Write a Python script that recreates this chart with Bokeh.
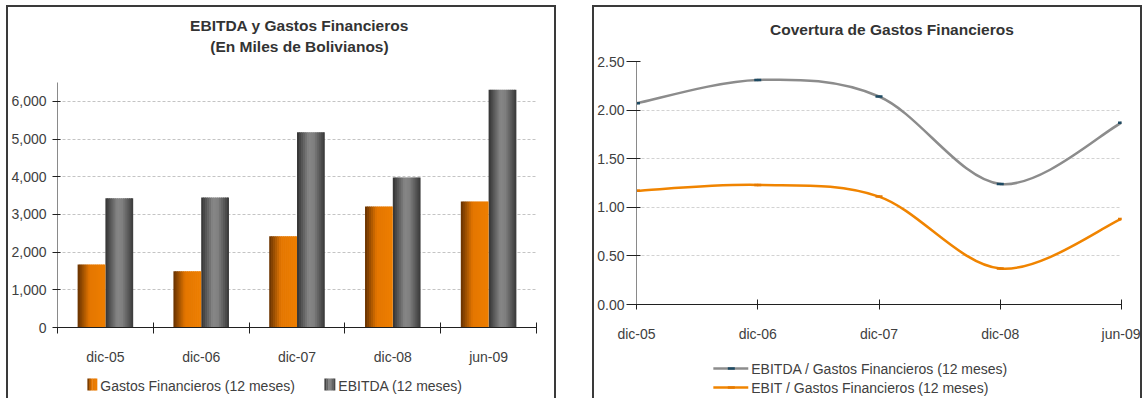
from bokeh.plotting import figure
from bokeh.models import (Range1d, FixedTicker, NumeralTickFormatter,
                          ColumnDataSource, Spacer)
from bokeh.transform import dodge
from bokeh.layouts import row, column
from bokeh.core.properties import value
from bokeh.embed import file_html
from bokeh.resources import INLINE

# ---- data -------------------------------------------------------------
periods = ["dic-05", "dic-06", "dic-07", "dic-08", "jun-09"]
gastos_financieros = [1670, 1490, 2420, 3210, 3340]   # miles de Bs, 12 meses
ebitda = [3430, 3450, 5180, 3980, 6310]               # miles de Bs, 12 meses
cobertura_ebitda = [2.07, 2.31, 2.14, 1.24, 1.87]     # EBITDA / Gastos Financieros
cobertura_ebit = [1.17, 1.23, 1.11, 0.37, 0.88]       # EBIT / Gastos Financieros
bar_ticks = [0, 1000, 2000, 3000, 4000, 5000, 6000]
ratio_ticks = [0.0, 0.5, 1.0, 1.5, 2.0, 2.5]
bar_series = ["Gastos Financieros (12 meses)", "EBITDA (12 meses)"]
ratio_series = ["EBITDA / Gastos Financieros (12 meses)",
                "EBIT / Gastos Financieros (12 meses)"]

FONT = "Liberation Sans"
TEXT = "#404040"
TITLE = "#333333"
FRAME = "#3a3a3a"
CW = 546               # canvas width of each chart panel
# left/right borders of the two charts; strips stacked with a chart share them
BORDERS_BARS = (47, 18)
BORDERS_RATIO = (41, 19)

ORANGE_STOPS = [(0, (100, 48, 0)), (0.42, (228, 118, 0)), (1, (238, 126, 0))]
GRAY_STOPS = [(0, (50, 50, 50)), (0.42, (134, 134, 134)), (0.6, (128, 128, 128)),
              (1, (56, 56, 56))]


def ramp(stops, n):
    """Sample a piecewise-linear colour ramp at n strip centres."""
    out = []
    for k in range(n):
        t = (k + 0.5) / n
        for (t0, c0), (t1, c1) in zip(stops, stops[1:]):
            if t0 <= t <= t1:
                f = (t - t0) / (t1 - t0)
                rgb = tuple(round(a + (b - a) * f) for a, b in zip(c0, c1))
                out.append("#%02x%02x%02x" % rgb)
                break
    return out


def style_axes(p):
    for ax in (p.xaxis[0], p.yaxis[0]):
        ax.major_label_text_font = FONT
        ax.major_label_text_font_size = "14px"
        ax.major_label_text_color = TEXT
        ax.major_tick_line_color = "#202020"
        ax.minor_tick_line_color = "#202020"


def strip_fig(height, borders):
    """Axis-less strip whose x/y are canvas pixels (y grows downward).

    Its frame lines up with the chart frame in the same column, so the x range
    runs over exactly the frame's pixel span.
    """
    bl, br = borders
    f = figure(width=CW, height=height, output_backend="svg", toolbar_location=None,
               x_range=Range1d(bl, CW - br), y_range=Range1d(height, 0),
               x_axis_location=None, y_axis_location=None,
               min_border_left=bl, min_border_right=br, min_border_top=0,
               min_border_bottom=0, outline_line_color=None,
               background_fill_color="white", border_fill_color="white")
    f.grid.visible = False
    return f


def title_fig(height, borders, lines):
    f = strip_fig(height, borders)
    f.text(x=[l[1] for l in lines], y=[l[2] for l in lines], text=[l[0] for l in lines],
           text_align="center", text_baseline="middle", text_font=value(FONT),
           text_font_size=value("15.5px"), text_font_style="bold", text_color=TITLE)
    return f


def legend_text(f, xs_, ys_, labels):
    f.text(x=xs_, y=ys_, text=labels, text_align="left", text_baseline="middle",
           text_font=value(FONT), text_font_size=value("14px"), text_color=TEXT)


def shaded_key(f, x0, width, y0, height, stops, n=6):
    """Small legend swatch with the same side-lit shading as the bars."""
    w = width / n
    f.quad(left=[x0 + k * w for k in range(n)],
           right=[x0 + (k + 1) * w + (0.3 if k < n - 1 else 0) for k in range(n)],
           top=[y0] * n, bottom=[y0 + height] * n,
           fill_color=ramp(stops, n), line_color=None)


def framed(parts):
    """Dark rule on top, left and right of a panel (bottom runs off the page)."""
    h = 2 + sum(p.height for p in parts)
    side = dict(width=2, height=h, styles={"background-color": FRAME})
    top = Spacer(width=CW, height=2, styles={"background-color": FRAME})
    return [Spacer(**side), column(top, *parts, spacing=0), Spacer(**side)]


# ---- left panel: bars -------------------------------------------------
t1 = title_fig(60, BORDERS_BARS, [("EBITDA y Gastos Financieros", 290, 18),
                                  ("(En Miles de Bolivianos)", 290, 39)])

p1 = figure(width=CW, height=301, output_backend="svg", toolbar_location=None,
            x_range=Range1d(-0.5, 4.5), y_range=Range1d(0, 6500),
            min_border_left=BORDERS_BARS[0], min_border_right=BORDERS_BARS[1],
            min_border_top=15, min_border_bottom=41, outline_line_color=None,
            background_fill_color="white", border_fill_color="white")

src = ColumnDataSource(dict(pos=list(range(len(periods))),
                            gastos=gastos_financieros, ebitda=ebitda))

N = 14
BAR_W = 0.29
strip_w = BAR_W / N
orange_cols = ramp(ORANGE_STOPS, N)
gray_cols = ramp(GRAY_STOPS, N)

# each bar is a row of narrow strips; all but the last overlap their right
# neighbour slightly so no seams show between them
for k in range(N):
    w = strip_w * (1.35 if k < N - 1 else 1.0)
    left = k * strip_w
    p1.vbar(x=dodge("pos", -BAR_W + left + w / 2, range=p1.x_range),
            top="gastos", width=w, source=src, fill_color=orange_cols[k],
            line_color=None)
    p1.vbar(x=dodge("pos", left + w / 2, range=p1.x_range),
            top="ebitda", width=w, source=src, fill_color=gray_cols[k],
            line_color=None)

p1.xgrid.visible = False
p1.ygrid.ticker = FixedTicker(ticks=bar_ticks)
p1.ygrid.grid_line_color = "#c4c4c4"
p1.ygrid.grid_line_dash = "3 2"

xa = p1.xaxis[0]
xa.ticker = FixedTicker(ticks=list(range(len(periods))),
                        minor_ticks=[i - 0.5 for i in range(len(periods) + 1)])
xa.major_label_overrides = {i: lab for i, lab in enumerate(periods)}
xa.major_tick_out = 0
xa.major_tick_in = 0
xa.minor_tick_in = 5
xa.minor_tick_out = 6
xa.axis_line_color = "#202020"
xa.major_label_standoff = 15

ya = p1.yaxis[0]
ya.ticker = FixedTicker(ticks=bar_ticks)
ya.formatter = NumeralTickFormatter(format="0,0")
ya.axis_line_color = "#8a8a8a"
ya.major_tick_in = 3
ya.major_tick_out = 5
ya.minor_tick_line_color = None
ya.major_label_standoff = 6
style_axes(p1)

# legend strip under the bar chart
l1 = strip_fig(30, BORDERS_BARS)
shaded_key(l1, 77, 10, 10, 12, ORANGE_STOPS)
shaded_key(l1, 315, 11, 10, 12, GRAY_STOPS)
legend_text(l1, [90, 329], [17, 17], bar_series)

# ---- right panel: coverage ratios ------------------------------------
t2 = title_fig(43, BORDERS_RATIO, [("Covertura de Gastos Financieros", 297, 22)])

p2 = figure(width=CW, height=302, output_backend="svg", toolbar_location=None,
            x_range=Range1d(0, 4), y_range=Range1d(0, 2.5),
            min_border_left=BORDERS_RATIO[0], min_border_right=BORDERS_RATIO[1],
            min_border_top=11, min_border_bottom=48, outline_line_color=None,
            background_fill_color="white", border_fill_color="white")

xs = list(range(len(periods)))


def smooth_segments(ys):
    """Cubic Bezier pieces (Catmull-Rom tangents) through the data points."""
    n = len(ys)
    pts = list(zip(xs, ys))
    seg = dict(x0=[], y0=[], x1=[], y1=[], cx0=[], cy0=[], cx1=[], cy1=[])
    for i in range(n - 1):
        pa = pts[max(i - 1, 0)]
        p0, p1_ = pts[i], pts[i + 1]
        pb = pts[min(i + 2, n - 1)]
        seg["x0"].append(p0[0]); seg["y0"].append(p0[1])
        seg["x1"].append(p1_[0]); seg["y1"].append(p1_[1])
        seg["cx0"].append(p0[0] + (p1_[0] - pa[0]) / 6)
        seg["cy0"].append(p0[1] + (p1_[1] - pa[1]) / 6)
        seg["cx1"].append(p1_[0] - (pb[0] - p0[0]) / 6)
        seg["cy1"].append(p1_[1] - (pb[1] - p0[1]) / 6)
    return ColumnDataSource(seg)


GRAY_LINE = "#8c8c8c"
ORANGE_LINE = "#f08400"
MARK_DARK = "#1d4a63"
MARK_ORANGE = "#e67a00"

p2.bezier(x0="x0", y0="y0", x1="x1", y1="y1", cx0="cx0", cy0="cy0",
          cx1="cx1", cy1="cy1", source=smooth_segments(cobertura_ebitda),
          line_color=GRAY_LINE, line_width=2.5, line_cap="round")
p2.bezier(x0="x0", y0="y0", x1="x1", y1="y1", cx0="cx0", cy0="cy0",
          cx1="cx1", cy1="cy1", source=smooth_segments(cobertura_ebit),
          line_color=ORANGE_LINE, line_width=2.5, line_cap="round")
p2.scatter(xs, cobertura_ebitda, marker="dash", size=7, line_color=MARK_DARK, line_width=2.5)
p2.scatter(xs, cobertura_ebit, marker="dash", size=7, line_color=MARK_ORANGE, line_width=2.5)

p2.xgrid.visible = False
p2.ygrid.ticker = FixedTicker(ticks=ratio_ticks[1:])
p2.ygrid.grid_line_color = "#d2d2d2"
p2.ygrid.grid_line_dash = "3 2"

xa2 = p2.xaxis[0]
xa2.ticker = FixedTicker(ticks=xs)
xa2.major_label_overrides = {i: lab for i, lab in enumerate(periods)}
xa2.major_tick_in = 5
xa2.major_tick_out = 5
xa2.minor_tick_line_color = None
xa2.axis_line_color = "#202020"
xa2.major_label_standoff = 16

ya2 = p2.yaxis[0]
ya2.ticker = FixedTicker(ticks=ratio_ticks)
ya2.formatter = NumeralTickFormatter(format="0.00")
ya2.axis_line_color = "#8a8a8a"
ya2.major_tick_in = 4
ya2.major_tick_out = 10
ya2.minor_tick_line_color = None
ya2.major_label_standoff = 2
style_axes(p2)

# legend strip under the ratio chart: line key with its point marker
l2 = strip_fig(46, BORDERS_RATIO)
l2.segment(x0=[118, 118], y0=[16, 35], x1=[153, 153], y1=[16, 35],
           line_color=[GRAY_LINE, ORANGE_LINE], line_width=2.5)
l2.scatter(x=[136, 136], y=[16, 35], marker="dash", size=7,
           line_color=[MARK_DARK, MARK_ORANGE], line_width=2.5)
legend_text(l2, [156, 156], [16, 35], ratio_series)

page = column(Spacer(height=5),
              row(Spacer(width=6), *framed([t1, p1, l1]), Spacer(width=36),
                  *framed([t2, p2, l2]), spacing=0),
              spacing=0)
open("out.html", "w").write(file_html(page, INLINE))
